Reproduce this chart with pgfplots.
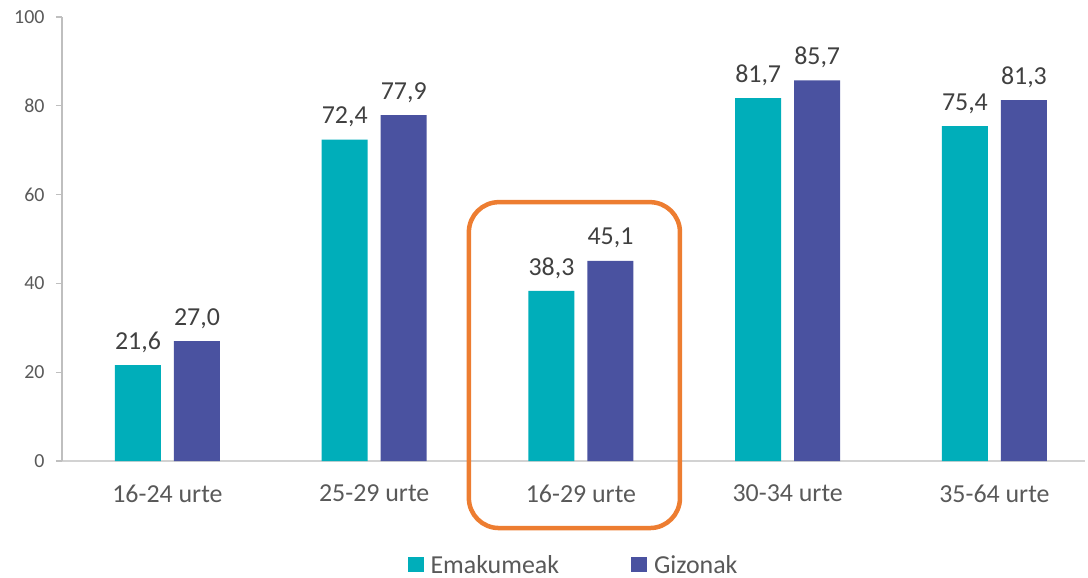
\documentclass[border=0pt]{standalone}
\usepackage{fontspec}
\setmainfont{Carlito}
\usepackage{pgfplots}
\pgfplotsset{compat=1.18}
\definecolor{teal1}{HTML}{00AEBA}
\definecolor{purp1}{HTML}{4A52A0}
\definecolor{txtgray}{HTML}{595959}
\definecolor{valgray}{HTML}{404040}
\definecolor{axgray}{HTML}{BFBFBF}
\definecolor{orng}{HTML}{ED7D31}
\begin{document}
\begin{tikzpicture}
\path[use as bounding box] (0,0) rectangle (1088bp,578bp);
\begin{axis}[
  at={(62bp,117bp)}, anchor=south west,
  scale only axis,
  width=1023bp, height=444bp,
  ybar=13bp, bar width=46bp,
  xmin=-0.51, xmax=4.438,
  ymin=0, ymax=100,
  ytick={0,20,...,100},
  xtick=data,
  xticklabels={16-24 urte,25-29 urte,16-29 urte,30-34 urte,35-64 urte},
  axis x line*=bottom, axis y line*=left,
  x axis line style={draw=axgray!70, line width=1.2bp, -},
  y axis line style={draw=axgray, line width=1.2bp, -},
  ytick style={draw=axgray, line width=1.2bp},
  ytick align=outside, major tick length=6bp,
  xtick style={draw=none},
  yticklabel style={font=\fontsize{20}{24}\selectfont, text=txtgray, xshift=-8bp, /pgf/number format/assume math mode=true},
  xticklabel style={font=\fontsize{26}{30}\selectfont, text=txtgray, yshift=-14bp},
  nodes near coords,
  every node near coord/.append style={font=\fontsize{26}{30}\selectfont, text=valgray, yshift=9bp,
    /pgf/number format/.cd, fixed, fixed zerofill, precision=1, use comma, assume math mode=true},
  clip=false,
  legend style={at={(0.5,-0.234)}, anchor=center, draw=none, legend columns=2,
    font=\fontsize{26}{30}\selectfont, text=txtgray,
    /tikz/every even column/.append style={column sep=70bp}},
  legend image code/.code={\fill[#1] (0bp,-7.5bp) rectangle (16bp,8bp); \path (21bp,0bp);},
]
\addplot[fill=teal1, draw=none] coordinates {(0,21.6) (1,72.4) (2,38.3) (3,81.7) (4,75.4)};
\addplot[fill=purp1, draw=none] coordinates {(0,27.0) (1,77.9) (2,45.1) (3,85.7) (4,81.3)};
\legend{Emakumeak,Gizonak}
\draw[orng, line width=4.5bp, rounded corners=30bp] (axis cs:1.458,-15.1) rectangle (axis cs:2.479,58.3);
\end{axis}
\end{tikzpicture}
\end{document}
